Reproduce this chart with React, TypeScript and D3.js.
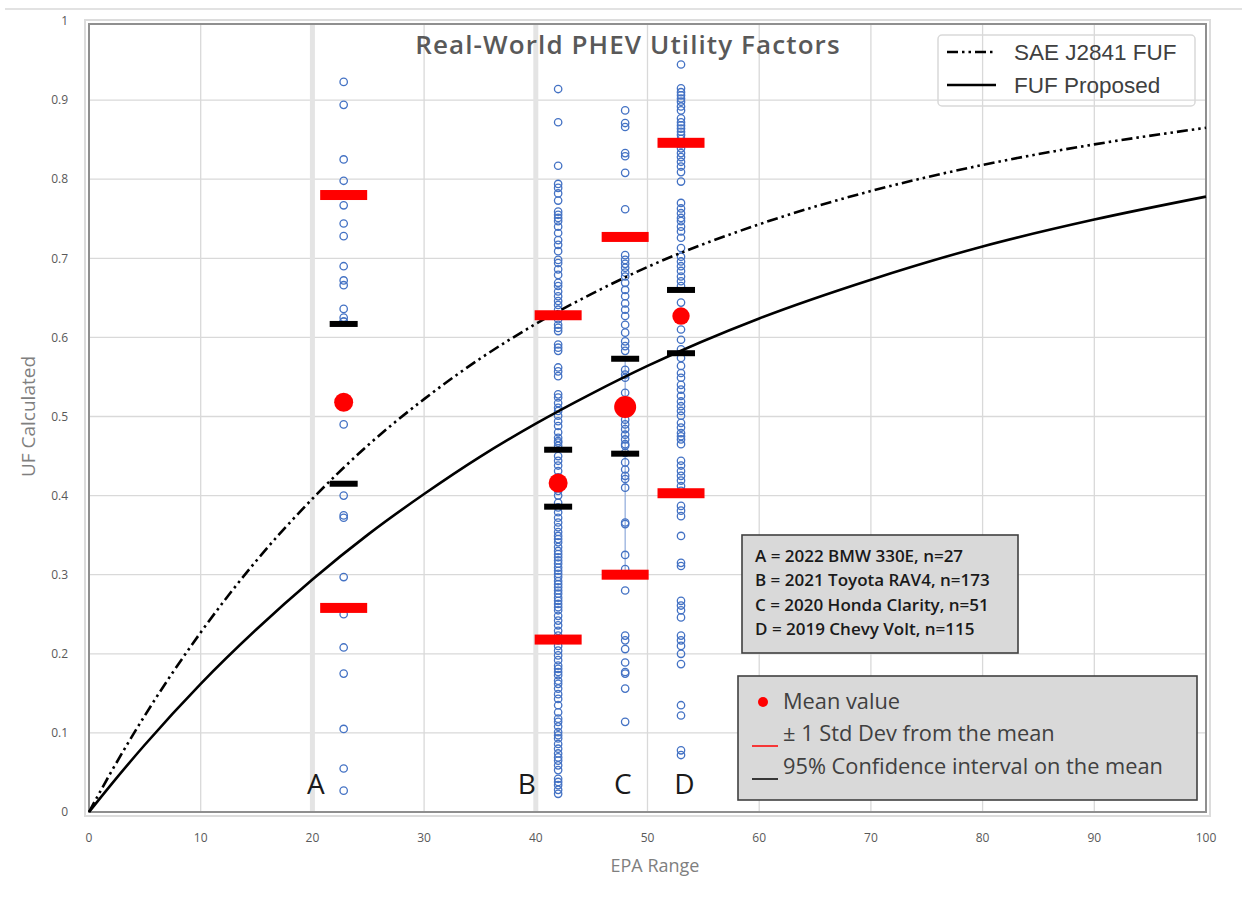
import React from 'react';
import * as d3 from 'd3';

// ---------- data ----------
const vehicleLetters = ['A', 'B', 'C', 'D'];
const epaRange = [22.8, 42, 48, 53];
const meanUF = [0.518, 0.416, 0.512, 0.627];
const sdLow = [0.258, 0.218, 0.3, 0.403];
const sdHigh = [0.78, 0.628, 0.727, 0.846];
const ciLow = [0.415, 0.386, 0.453, 0.58];
const ciHigh = [0.617, 0.458, 0.573, 0.66];
const letterX = [20.3, 39.2, 47.8, 53.3];

const ufA = [0.923, 0.894, 0.825, 0.798, 0.767, 0.744, 0.728, 0.69, 0.672, 0.666, 0.636, 0.625, 0.62, 0.62, 0.522, 0.52, 0.49, 0.4, 0.375, 0.372, 0.297, 0.25, 0.208, 0.175, 0.105, 0.055, 0.027];
const ufB = [0.914, 0.872, 0.817, 0.794, 0.789, 0.782, 0.773, 0.759, 0.755, 0.751, 0.747, 0.74, 0.732, 0.723, 0.717, 0.709, 0.698, 0.694, 0.686, 0.679, 0.669, 0.665, 0.658, 0.652, 0.646, 0.641, 0.635, 0.629, 0.623, 0.616, 0.612, 0.608, 0.591, 0.587, 0.583, 0.562, 0.557, 0.551, 0.528, 0.524, 0.517, 0.511, 0.507, 0.501, 0.494, 0.488, 0.48, 0.473, 0.467, 0.469, 0.463, 0.45, 0.444, 0.438, 0.431, 0.423, 0.406, 0.4, 0.391, 0.385, 0.379, 0.372, 0.366, 0.36, 0.354, 0.349, 0.345, 0.341, 0.335, 0.33, 0.326, 0.322, 0.318, 0.314, 0.309, 0.305, 0.301, 0.297, 0.292, 0.288, 0.284, 0.28, 0.276, 0.271, 0.267, 0.263, 0.259, 0.255, 0.248, 0.242, 0.236, 0.229, 0.223, 0.217, 0.21, 0.204, 0.198, 0.192, 0.185, 0.181, 0.177, 0.173, 0.166, 0.162, 0.156, 0.149, 0.143, 0.135, 0.126, 0.118, 0.114, 0.108, 0.101, 0.097, 0.093, 0.086, 0.08, 0.074, 0.069, 0.065, 0.059, 0.053, 0.042, 0.038, 0.034, 0.028, 0.023];
const ufC = [0.887, 0.871, 0.866, 0.833, 0.829, 0.808, 0.762, 0.704, 0.698, 0.693, 0.688, 0.682, 0.677, 0.669, 0.66, 0.652, 0.643, 0.635, 0.627, 0.616, 0.606, 0.595, 0.589, 0.583, 0.559, 0.553, 0.549, 0.53, 0.517, 0.496, 0.49, 0.484, 0.477, 0.471, 0.465, 0.463, 0.454, 0.442, 0.433, 0.425, 0.421, 0.41, 0.366, 0.364, 0.325, 0.307, 0.28, 0.223, 0.217, 0.206, 0.189, 0.177, 0.175, 0.156, 0.114];
const ufD = [0.945, 0.915, 0.91, 0.906, 0.902, 0.898, 0.892, 0.887, 0.877, 0.872, 0.868, 0.864, 0.86, 0.856, 0.851, 0.844, 0.839, 0.833, 0.828, 0.822, 0.816, 0.809, 0.797, 0.77, 0.763, 0.757, 0.751, 0.747, 0.74, 0.734, 0.726, 0.713, 0.702, 0.696, 0.69, 0.684, 0.677, 0.671, 0.665, 0.644, 0.61, 0.597, 0.585, 0.574, 0.564, 0.555, 0.549, 0.54, 0.534, 0.526, 0.519, 0.513, 0.507, 0.501, 0.492, 0.486, 0.479, 0.471, 0.465, 0.475, 0.444, 0.438, 0.431, 0.425, 0.419, 0.412, 0.406, 0.387, 0.381, 0.374, 0.349, 0.315, 0.311, 0.267, 0.261, 0.255, 0.246, 0.223, 0.217, 0.21, 0.2, 0.187, 0.135, 0.122, 0.078, 0.072];
const vehicleUF = [ufA, ufB, ufC, ufD];

const curveRange = [0, 2, 5, 10, 15, 20, 25, 30, 35, 40, 45, 50, 60, 70, 80, 90, 100];
const saeFUF = [0, 0.051, 0.122, 0.227, 0.318, 0.396, 0.464, 0.522, 0.573, 0.617, 0.655, 0.689, 0.743, 0.785, 0.818, 0.844, 0.865];
const proposedFUF = [0, 0.035, 0.085, 0.162, 0.231, 0.294, 0.351, 0.402, 0.449, 0.491, 0.529, 0.564, 0.624, 0.673, 0.715, 0.749, 0.778];

const xTickValues = [0, 10, 20, 30, 40, 50, 60, 70, 80, 90, 100];
const yTickValues = [0, 0.1, 0.2, 0.3, 0.4, 0.5, 0.6, 0.7, 0.8, 0.9, 1];
const yTickLabels = ['0', '0.1', '0.2', '0.3', '0.4', '0.5', '0.6', '0.7', '0.8', '0.9', '1'];

const infoLines = [
  'A = 2022 BMW 330E, n=27',
  'B = 2021 Toyota RAV4, n=173',
  'C = 2020 Honda Clarity, n=51',
  'D = 2019 Chevy Volt, n=115',
];
const legendLabels = ['SAE J2841 FUF', 'FUF Proposed'];
const keyLabels = ['Mean value', '± 1 Std Dev from the mean', '95% Confidence interval on the mean'];

// ---------- styles ----------
const meanRadius = [9.5, 9.5, 11, 8.7];
const W = 1242;
const H = 905;
const x = d3.scaleLinear().domain([0, 100]).range([89, 1206]);
const y = d3.scaleLinear().domain([0, 1]).range([812, 21]);
const DASH = '11,4,2.5,4,2.5,4';

export default function App() {
  const line = d3
    .line<number>()
    .x((_, i) => x(curveRange[i]))
    .y((d) => y(d))
    .curve(d3.curveMonotoneX);

  const font = "'Open Sans', sans-serif";
  return (
    <svg
      width={W}
      height={H}
      viewBox={`0 0 ${W} ${H}`}
      style={{ position: 'absolute', left: 0, top: 0, display: 'block', background: '#fff' }}
    >
      <line x1={5} x2={W} y1={9} y2={9} stroke="#d9d9d9" strokeWidth={1.5} />

      {/* outer light frame */}
      <rect x={85} y={20} width={1125} height={796} fill="none" stroke="#dcdcdc" strokeWidth={2} />

      {/* gridlines */}
      {yTickValues.slice(1, -1).map((v) => (
        <line key={'gy' + v} x1={x(0)} x2={x(100)} y1={y(v)} y2={y(v)} stroke="#d9d9d9" strokeWidth={1.3} />
      ))}
      {xTickValues.slice(1, -1).map((v) => (
        <line
          key={'gx' + v}
          x1={x(v)}
          x2={x(v)}
          y1={y(0)}
          y2={24}
          stroke={v === 20 || v === 40 ? '#e4e4e4' : '#d9d9d9'}
          strokeWidth={v === 20 || v === 40 ? 5 : 1.3}
        />
      ))}

      {/* plot frame */}
      <rect x={x(0)} y={24} width={x(100) - x(0)} height={y(0) - 24} fill="none" stroke="#8f8f8f" strokeWidth={2} />

      {/* tick labels */}
      {yTickValues.map((v, i) => (
        <text key={'ty' + v} x={68} y={y(v)} dy="0.35em" textAnchor="end" fontFamily={font} fontSize={12} fill="#595959">
          {yTickLabels[i]}
        </text>
      ))}
      {xTickValues.map((v) => (
        <text key={'tx' + v} x={x(v)} y={838} dy="0.35em" textAnchor="middle" fontFamily={font} fontSize={12} fill="#595959">
          {v}
        </text>
      ))}

      {/* axis titles */}
      <text
        transform={`translate(28,${y(0.5)}) rotate(-90)`}
        textAnchor="middle"
        dy="0.35em"
        fontFamily={font}
        fontSize={19}
        fill="#7f7f7f"
      >
        UF Calculated
      </text>
      <text x={655} y={866} textAnchor="middle" dy="0.35em" fontFamily={font} fontSize={18} fill="#7f7f7f">
        EPA Range
      </text>

      {/* title */}
      <text x={628} y={45} textAnchor="middle" dy="0.35em" fontFamily={font} fontWeight={600} fontSize={26} letterSpacing={1.1} fill="#595959">
        Real-World PHEV Utility Factors
      </text>

      {/* C connector line */}
      <line x1={x(epaRange[2])} x2={x(epaRange[2])} y1={y(ciHigh[2])} y2={y(sdLow[2])} stroke="#8eaadb" strokeWidth={1.2} />

      {/* data circles */}
      {vehicleUF.map((arr, vi) =>
        arr.map((v, j) => (
          <circle key={`c${vi}-${j}`} cx={x(epaRange[vi])} cy={y(v)} r={3.7} fill="none" stroke="#4472c4" strokeWidth={1.3} />
        ))
      )}

      {/* curves */}
      <path d={line(saeFUF) || ''} fill="none" stroke="#000" strokeWidth={2.6} strokeDasharray={DASH} />
      <path d={line(proposedFUF) || ''} fill="none" stroke="#000" strokeWidth={2.6} />

      {/* stat bars */}
      {vehicleLetters.map((l, i) => (
        <g key={'s' + l}>
          <rect x={x(epaRange[i]) - 23.5} y={y(sdHigh[i]) - 5} width={47} height={10} fill="#ff0000" />
          <rect x={x(epaRange[i]) - 23.5} y={y(sdLow[i]) - 5} width={47} height={10} fill="#ff0000" />
          <rect x={x(epaRange[i]) - 14} y={y(ciHigh[i]) - 3} width={28} height={6} fill="#000" />
          <rect x={x(epaRange[i]) - 14} y={y(ciLow[i]) - 3} width={28} height={6} fill="#000" />
          <circle cx={x(epaRange[i])} cy={y(meanUF[i])} r={meanRadius[i]} fill="#ff0000" />
        </g>
      ))}

      {/* letters */}
      {vehicleLetters.map((l, i) => (
        <text key={'l' + l} x={x(letterX[i])} y={784} dy="0.35em" textAnchor="middle" fontFamily={font} fontSize={28} fill="#1a1a1a">
          {l}
        </text>
      ))}

      {/* top-right legend */}
      <rect x={938} y={35} width={257} height={71} rx={4} fill="none" stroke="#d9d9d9" strokeWidth={1.5} />
      <line x1={947} x2={996} y1={52} y2={52} stroke="#000" strokeWidth={2.6} strokeDasharray={DASH} />
      <line x1={947} x2={996} y1={85} y2={85} stroke="#000" strokeWidth={2.6} />
      {legendLabels.map((t, i) => (
        <text key={t} x={1014} y={52 + i * 33} dy="0.35em" fontFamily="'Liberation Sans', Arial, sans-serif" fontSize={22.5} fill="#404040">
          {t}
        </text>
      ))}

      {/* info box */}
      <rect x={742} y={535} width={276} height={118} fill="#d9d9d9" stroke="#404040" strokeWidth={1.6} />
      {infoLines.map((t, i) => (
        <text key={t} x={755} y={556 + i * 24.5} dy="0.35em" fontFamily={font} fontWeight={600} fontSize={17} fill="#1a1a1a">
          {t}
        </text>
      ))}

      {/* key box */}
      <rect x={738} y={676} width={459} height={124} fill="#d9d9d9" stroke="#404040" strokeWidth={1.6} />
      <circle cx={763} cy={702} r={5} fill="#ff0000" />
      <line x1={752} x2={778} y1={746} y2={746} stroke="#ff0000" strokeWidth={1.5} />
      <line x1={752} x2={778} y1={779} y2={779} stroke="#000" strokeWidth={1.5} />
      {keyLabels.map((t, i) => (
        <text key={t} x={783} y={701 + i * 32.5} dy="0.35em" fontFamily={font} fontSize={21.8} fill="#404040">
          {t}
        </text>
      ))}
    </svg>
  );
}
